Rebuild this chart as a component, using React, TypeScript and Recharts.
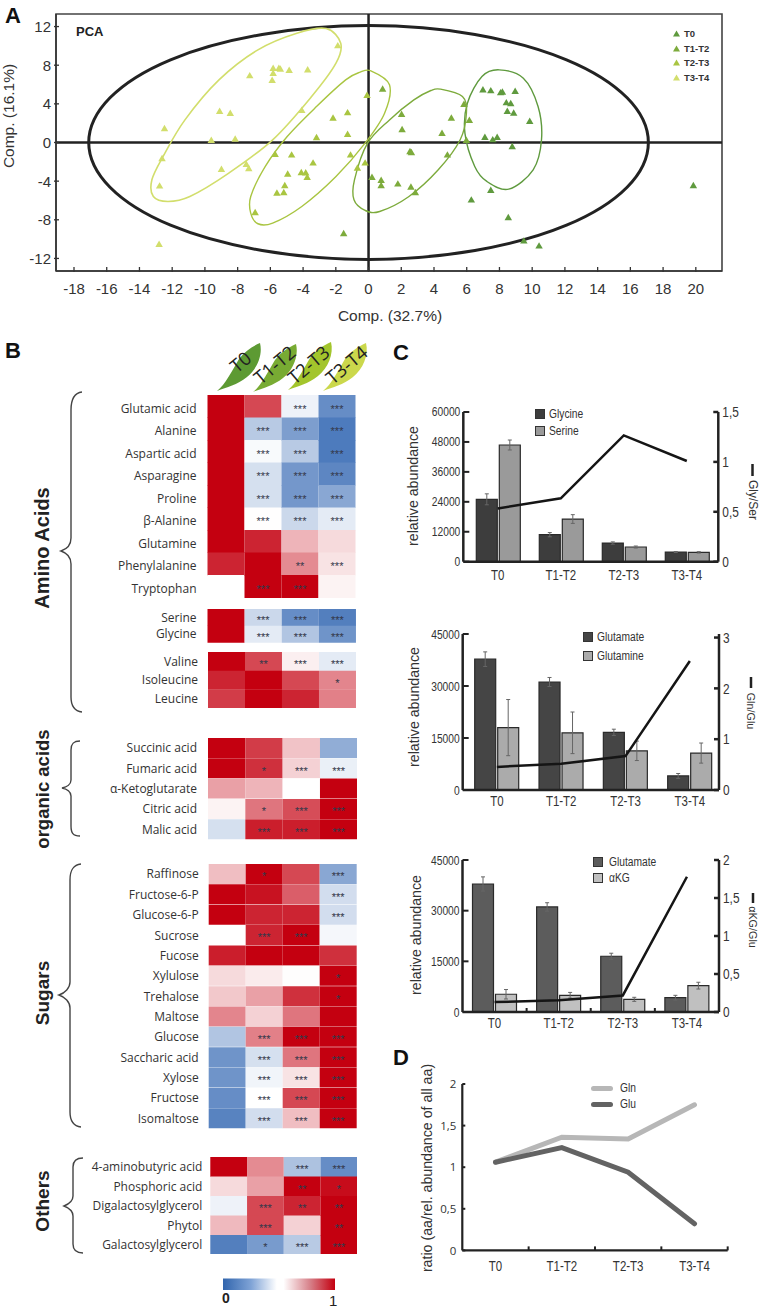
import React from "react"
import {
  Bar, Cell, ComposedChart, BarChart, ErrorBar, LabelList, Legend, Line, ReferenceArea, ReferenceLine,
  Scatter, ScatterChart, Symbols, XAxis, YAxis,
} from "recharts"

const ARIAL = '"Liberation Sans", Arial, sans-serif'
const HUMAN = '"Open Sans", sans-serif'
const SQUEEZE = 0.82 // the figure's Arial is set condensed

// ---- panel A: PCA scores
const t0Points = [
  { x: 6.99, y: 5.41 }, { x: 7.47, y: 5.31 }, { x: 8.07, y: 5.1 }, { x: 8.18, y: 5.17 }, { x: 8.96, y: 5.24 },
  { x: 8.42, y: 4.07 }, { x: 8.69, y: 3.97 }, { x: 8.48, y: 3.17 }, { x: 8.87, y: 3 }, { x: 9.85, y: 2.14 },
  { x: 7.11, y: 0.48 }, { x: 7.59, y: 0.24 }, { x: 7.86, y: 0.48 }, { x: 8.78, y: -0.48 }, { x: 7.47, y: -5 },
  { x: 6.28, y: -6 }, { x: 8.54, y: -7.83 }, { x: 9.49, y: -10.24 }, { x: 10.42, y: -10.76 }, { x: 19.85, y: -4.52 },
]
const t1t2Points = [
  { x: 0.86, y: 5.48 }, { x: 2.02, y: 2.86 }, { x: 2.05, y: 1.28 }, { x: 2.53, y: -1 }, { x: 2.62, y: -1.1 },
  { x: 4.82, y: -1.34 }, { x: 4.49, y: 0.9 }, { x: 5.06, y: 2.48 }, { x: 5.83, y: 3.9 }, { x: 5.98, y: 0.17 },
  { x: 6.16, y: 2.24 }, { x: 0.21, y: -3.66 }, { x: 0.77, y: -3.97 }, { x: 0.77, y: -4.52 }, { x: 1.79, y: -4.34 },
  { x: 2.59, y: -4.66 }, { x: 2.86, y: -5.24 }, { x: -1.52, y: -9.48 },
]
const t2t3Points = [
  { x: -0.09, y: 4.83 }, { x: -2.17, y: 2.48 }, { x: -1.28, y: 3.03 }, { x: -1.28, y: 0.79 }, { x: -3.18, y: 0.45 },
  { x: -1.1, y: -1.34 }, { x: -5.71, y: -1.28 }, { x: -4.7, y: -1.34 }, { x: -3.39, y: -2.17 }, { x: -4.11, y: -3.17 },
  { x: -3.84, y: -3.2 }, { x: -3.75, y: -3.66 }, { x: -4.94, y: -3.31 }, { x: -5.12, y: -4.52 }, { x: -5.18, y: -5.24 },
  { x: -5.6, y: -5.28 }, { x: -6.93, y: -7.31 }, { x: -0.21, y: -2.17 }, { x: -0.68, y: -2.69 },
]
const t3t4Points = [
  { x: -12.47, y: 1.38 }, { x: -12.62, y: -1.72 }, { x: -12.77, y: -4.55 }, { x: -12.8, y: -10.59 }, { x: -9.61, y: 0.17 },
  { x: -9.1, y: 3.17 }, { x: -8.45, y: 2.97 }, { x: -8.15, y: 0.31 }, { x: -8.99, y: -2.83 }, { x: -7.47, y: -2.31 },
  { x: -7.32, y: -2.76 }, { x: -7.26, y: 6.86 }, { x: -5.89, y: 6.38 }, { x: -5.83, y: 7.1 }, { x: -5.83, y: 7.62 },
  { x: -5.48, y: 7.62 }, { x: -5.39, y: 7.55 }, { x: -4.85, y: 7.41 }, { x: -3.72, y: 7.48 }, { x: -1.88, y: 9.97 },
  { x: -4.08, y: 3.28 },
]

// confidence ellipses, outlines
const outerOutline = [
  { x: 17.1, y: 0 }, { x: 15.8, y: 4.63 }, { x: 12.1, y: 8.56 }, { x: 6.5, y: 11.18 }, { x: 0, y: 12.1 },
  { x: -6.5, y: 11.18 }, { x: -12.1, y: 8.56 }, { x: -15.8, y: 4.63 }, { x: -17.1, y: 0 }, { x: -15.8, y: -4.63 },
  { x: -12.1, y: -8.56 }, { x: -6.5, y: -11.18 }, { x: 0, y: -12.1 }, { x: 6.5, y: -11.18 }, { x: 12.1, y: -8.56 },
  { x: 15.8, y: -4.63 },
]
const t0Outline = [
  { x: 7.98, y: 7.52 }, { x: 9.46, y: 6.66 }, { x: 10.36, y: 3.72 }, { x: 10.57, y: 0.28 }, { x: 10.06, y: -2.83 },
  { x: 8.57, y: -4.83 }, { x: 7.23, y: -4.03 }, { x: 6.49, y: -2.48 }, { x: 5.89, y: 0.97 }, { x: 6.04, y: 4.07 },
  { x: 6.93, y: 6.83 },
]
const t1t2Outline = [
  { x: 4.4, y: 5.52 }, { x: 5.74, y: 4.76 }, { x: 5.98, y: 3.03 }, { x: 5.6, y: 0.28 }, { x: 4.26, y: -2.83 },
  { x: 2.47, y: -5.59 }, { x: 0.68, y: -7.14 }, { x: -0.21, y: -7.03 }, { x: -0.89, y: -5.93 }, { x: -0.86, y: -3.86 },
  { x: -0.06, y: -0.07 }, { x: 1.28, y: 2.34 }, { x: 2.77, y: 4.41 }, { x: 3.81, y: 5.38 },
]
const t2t3Outline = [
  { x: 0.15, y: 7.41 }, { x: 1.28, y: 5.97 }, { x: 0.98, y: 3.03 }, { x: -0.21, y: -0.07 }, { x: -1.99, y: -3.52 },
  { x: -4.08, y: -6.62 }, { x: -5.86, y: -8.34 }, { x: -6.76, y: -8.41 }, { x: -7.2, y: -7.31 }, { x: -7.2, y: -5.59 },
  { x: -6.31, y: -2.48 }, { x: -4.97, y: 0.62 }, { x: -3.18, y: 3.72 }, { x: -1.4, y: 6.48 }, { x: -0.51, y: 7.28 },
]
const t3t4Outline = [
  { x: -2.59, y: 11.79 }, { x: -1.7, y: 10.28 }, { x: -1.99, y: 8.21 }, { x: -3.48, y: 4.76 }, { x: -5.86, y: 0.28 },
  { x: -8.54, y: -3.17 }, { x: -10.92, y: -5.59 }, { x: -12.26, y: -6.1 }, { x: -13.15, y: -5.59 }, { x: -13.24, y: -3.86 },
  { x: -12.56, y: -1.45 }, { x: -11.22, y: 2.34 }, { x: -9.14, y: 6.48 }, { x: -6.76, y: 9.59 }, { x: -4.38, y: 11.31 },
]
const pcaXTicks = [-18, -16, -14, -12, -10, -8, -6, -4, -2, 0, 2, 4, 6, 8, 10, 12, 14, 16, 18, 20]
const pcaYTicks = [-12, -8, -4, 0, 4, 8, 12]

const GREEN0 = "#5f9a3e"
const GREEN1 = "#7dab3c"
const GREEN2 = "#a9c541"
const GREEN3 = "#d2de6c"

// ---- panel B: heat map, 0 = blue, 0.5 = white, 1 = red; stars = count of asterisks
const aminoNames = ["Glutamic acid", "Alanine", "Aspartic acid", "Asparagine", "Proline", "β-Alanine", "Glutamine", "Phenylalanine", "Tryptophan"]
const aminoHeat = [
  [1, 0.88, 0.45, 0.1], [1, 0.3, 0.15, 0.05], [1, 0.48, 0.3, 0.05], [1, 0.38, 0.13, 0.08], [1, 0.38, 0.13, 0.18],
  [1, 0.505, 0.35, 0.42], [1, 0.94, 0.68, 0.6], [0.94, 1, 0.76, 0.58], [0.5, 1, 1, 0.54],
]
const aminoStars = [[0, 0, 3, 3], [0, 3, 3, 3], [0, 3, 3, 3], [0, 3, 3, 3], [0, 3, 3, 3], [0, 3, 3, 3], [0, 0, 0, 0], [0, 0, 2, 3], [0, 3, 3, 0]]
const serGlyNames = ["Serine", "Glycine"]
const serGlyHeat = [[1, 0.35, 0.1, 0.06], [1, 0.42, 0.28, 0.12]]
const serGlyStars = [[0, 3, 3, 3], [0, 3, 3, 3]]
const branchedNames = ["Valine", "Isoleucine", "Leucine"]
const branchedHeat = [[1, 0.88, 0.55, 0.42], [0.94, 1, 0.88, 0.77], [0.9, 1, 0.94, 0.78]]
const branchedStars = [[0, 2, 3, 3], [0, 0, 0, 1], [0, 0, 0, 0]]
const organicNames = ["Succinic acid", "Fumaric acid", "α-Ketoglutarate", "Citric acid", "Malic acid"]
const organicHeat = [[1, 0.9, 0.65, 0.2], [1, 0.92, 0.62, 0.44], [0.72, 0.68, 0.5, 1], [0.54, 0.8, 0.87, 1], [0.38, 0.95, 0.95, 1]]
const organicStars = [[0, 0, 0, 0], [0, 1, 3, 3], [0, 0, 0, 0], [0, 1, 3, 3], [0, 3, 3, 3]]
const sugarNames = ["Raffinose", "Fructose-6-P", "Glucose-6-P", "Sucrose", "Fucose", "Xylulose", "Trehalose", "Maltose", "Glucose", "Saccharic acid", "Xylose", "Fructose", "Isomaltose"]
const sugarHeat = [
  [0.66, 1, 0.88, 0.18], [1, 0.97, 0.84, 0.37], [1, 0.94, 0.94, 0.37], [0.5, 0.94, 1, 0.47], [0.95, 1, 1, 0.92],
  [0.6, 0.56, 0.51, 1], [0.64, 0.72, 0.92, 1], [0.77, 0.62, 0.8, 1], [0.28, 0.78, 1, 1], [0.12, 0.38, 0.8, 1],
  [0.12, 0.46, 0.58, 1], [0.1, 0.5, 0.88, 1], [0.07, 0.37, 0.66, 1],
]
const sugarStars = [[0, 1, 0, 3], [0, 0, 0, 3], [0, 0, 0, 3], [0, 3, 3, 0], [0, 0, 0, 0], [0, 0, 0, 1], [0, 0, 0, 1], [0, 0, 0, 0], [0, 3, 3, 3], [0, 3, 3, 3], [0, 3, 3, 3], [0, 3, 3, 3], [0, 3, 3, 3]]
const otherNames = ["4-aminobutyric acid", "Phosphoric acid", "Digalactosylglycerol", "Phytol", "Galactosylglycerol"]
const otherHeat = [[1, 0.76, 0.27, 0.1], [0.6, 0.72, 1, 0.98], [0.45, 0.88, 0.94, 1], [0.67, 0.88, 0.62, 1], [0.06, 0.14, 0.3, 1]]
const otherStars = [[0, 0, 3, 3], [0, 0, 2, 1], [0, 3, 2, 2], [0, 3, 0, 2], [0, 1, 3, 3]]

// ---- panels C and D
const stages = ["T0", "T1-T2", "T2-T3", "T3-T4"]
const glycine = [25000, 10820, 7480, 3880]
const glycineErr = [2200, 850, 450, 200]
const serine = [46770, 17100, 5880, 3740]
const serineErr = [2000, 1750, 400, 280]
const glyPerSer = [0.534, 0.635, 1.266, 1.009]
const glutamate = [37740, 31160, 16640, 4060]
const glutamateErr = [2100, 1300, 900, 700]
const glutamine = [18000, 16500, 11300, 10650]
const glutamineErr = [8100, 6000, 2800, 2900]
const glnPerGlu = [0.455, 0.515, 0.667, 2.54]
const akg = [5250, 4950, 3750, 7800]
const akgErr = [1400, 850, 600, 1000]
const glutamate3 = [37900, 31100, 16500, 4240]
const glutamate3Err = [2100, 1250, 900, 700]
const akgPerGlu = [0.13, 0.155, 0.218, 1.78]
const glnRatio = [1.06, 1.36, 1.34, 1.75]
const gluRatio = [1.06, 1.235, 0.94, 0.32]

const glySerTable = stages.map((stage, i) => ({ stage, glycine: glycine[i], glycineErr: glycineErr[i], serine: serine[i], serineErr: serineErr[i], ratio: glyPerSer[i] }))
const glnGluTable = stages.map((stage, i) => ({ stage, glutamate: glutamate[i], glutamateErr: glutamateErr[i], glutamine: glutamine[i], glutamineErr: glutamineErr[i], ratio: glnPerGlu[i] }))
const akgGluTable = stages.map((stage, i) => ({ stage, glutamate: glutamate3[i], glutamateErr: glutamate3Err[i], akg: akg[i], akgErr: akgErr[i], ratio: akgPerGlu[i] }))
const aaRatioTable = stages.map((stage, i) => ({ stage, gln: glnRatio[i], glu: gluRatio[i] }))

const comma = (v: number) => String(v).replace(".", ",")

// closed Catmull-Rom curve so the traced outlines come out round
function closedSpline(ctx: any) {
  let pts: number[][] = []
  return {
    areaStart() {},
    areaEnd() {},
    lineStart() { pts = [] },
    point(x: number, y: number) { pts.push([x, y]) },
    lineEnd() {
      const n = pts.length
      if (!n) return
      ctx.moveTo(pts[0][0], pts[0][1])
      for (let i = 0; i < n; i++) {
        const p0 = pts[(i + n - 1) % n], p1 = pts[i], p2 = pts[(i + 1) % n], p3 = pts[(i + 2) % n]
        ctx.bezierCurveTo(
          p1[0] + (p2[0] - p0[0]) / 6, p1[1] + (p2[1] - p0[1]) / 6,
          p2[0] - (p3[0] - p1[0]) / 6, p2[1] - (p3[1] - p1[1]) / 6,
          p2[0], p2[1],
        )
      }
      ctx.closePath()
    },
  }
}

function Squeezed({ x, y, anchor, size, font = ARIAL, sx = SQUEEZE, children }: any) {
  return <text transform={`translate(${x} ${y}) scale(${sx} 1)`} textAnchor={anchor} fontFamily={font} fontSize={size} fill="#333">{children}</text>
}

// axis ticks: the mark sits on the inner side of the axis, tickSize/tickMargin are 0 so x,y is the axis point
const leftTick = (size: number, gap: number, mark: number, font = ARIAL, sx = SQUEEZE) => (p: any) => (
  <g>
    <line x1={p.x} x2={p.x + mark} y1={p.y} y2={p.y} stroke="#222" strokeWidth={2} />
    <Squeezed x={p.x - gap} y={p.y + size * 0.36} anchor="end" size={size} font={font} sx={sx}>{comma(p.payload.value)}</Squeezed>
  </g>
)
const rightTick = (size: number, gap: number, mark: number) => (p: any) => (
  <g>
    <line x1={p.x - mark} x2={p.x} y1={p.y} y2={p.y} stroke="#222" strokeWidth={2.5} />
    <Squeezed x={p.x + gap} y={p.y + size * 0.36} anchor="start" size={size}>{comma(p.payload.value)}</Squeezed>
  </g>
)
const bottomTick = (size: number, below: number, band = 0) => (p: any) => (
  <g>
    {band > 0 && <line x1={p.x + band / 2} x2={p.x + band / 2} y1={p.y} y2={p.y - 4} stroke="#222" strokeWidth={2} />}
    <Squeezed x={p.x} y={p.y + below} anchor="middle" size={size}>{p.payload.value}</Squeezed>
  </g>
)
const pcaXTick = (p: any) => (
  <g>
    <line x1={p.x} x2={p.x} y1={p.y + 1} y2={p.y - 4} stroke="#333" strokeWidth={1.3} />
    <text x={p.x} y={p.y + 23} textAnchor="middle" fontFamily={ARIAL} fontSize={15} fill="#333">{p.payload.value}</text>
  </g>
)
const pcaYTick = (p: any) => (
  <g>
    <line x1={p.x - 2} x2={p.x + 3} y1={p.y} y2={p.y} stroke="#333" strokeWidth={1.3} />
    <text x={p.x - 5} y={p.y + 5.5} textAnchor="end" fontFamily={ARIAL} fontSize={15} fill="#333">{p.payload.value}</text>
  </g>
)
const triangle = (p: any) => <Symbols type="triangle" cx={p.cx} cy={p.cy} size={24} fill={p.fill} />

// legend drawn from the series payload, placed by wrapperStyle
const boxLegend = (spacing: number, textGap: number, kind: "box" | "tri" | "stroke", size = 12.5, sx = SQUEEZE, weight = 400) => ({ payload }: any) => (
  <div style={{ fontFamily: ARIAL, fontSize: size, fontWeight: weight, color: "#333" }}>
    {(payload || []).filter((e: any) => e.type !== "none").map((e: any) => (
      <div key={e.value} style={{ display: "flex", alignItems: "center", height: spacing }}>
        {kind === "box" && <span style={{ width: 8, height: 8, background: e.color, border: "1.2px solid #333", marginRight: textGap }} />}
        {kind === "tri" && <svg width={7} height={7} style={{ marginRight: textGap }}><polygon points="3.5,0.5 7,6.5 0,6.5" fill={e.color} /></svg>}
        {kind === "stroke" && <span style={{ width: 22, height: 5, borderRadius: 3, background: e.color, marginRight: textGap }} />}
        <span style={{ display: "inline-block", transform: `scaleX(${sx})`, transformOrigin: "left" }}>{e.value}</span>
      </div>
    ))}
  </div>
)

function heatColor(v: number) {
  const blue = [44, 98, 176], white = [255, 255, 255], red = [196, 0, 16]
  const from = v < 0.5 ? blue : white
  const to = v < 0.5 ? white : red
  // the published scale stays pale longer on both sides of white
  const t = v < 0.5 ? Math.pow(v * 2, 0.8) : Math.pow((v - 0.5) * 2, 1.2)
  return `rgb(${from.map((c, i) => Math.round(c + (to[i] - c) * t)).join(",")})`
}

const HEAT_LEFT = 60
const COLUMNS = ["a", "b", "c", "d"]

function HeatBlock({ cellLeft, cellWidth, top, rowH, gap, names, heat, stars, labelDy = 0 }: any) {
  const rows = names.map((name: string, i: number) => ({
    name, a: 1, b: 1, c: 1, d: 1,
    sa: "*".repeat(stars[i][0]), sb: "*".repeat(stars[i][1]), sc: "*".repeat(stars[i][2]), sd: "*".repeat(stars[i][3]),
  }))
  const axisW = cellLeft - HEAT_LEFT
  return (
    <div style={{ position: "absolute", left: HEAT_LEFT, top }}>
      <BarChart width={axisW + cellWidth} height={rowH * names.length} data={rows} layout="vertical" barCategoryGap={0} margin={{ top: 0, right: 0, bottom: 0, left: 0 }}>
        <XAxis type="number" hide domain={[0, 4]} />
        <YAxis type="category" dataKey="name" width={axisW} interval={0} axisLine={false} tickLine={false} tickSize={0} tickMargin={gap}
          tick={{ fontFamily: HUMAN, fontSize: 12, fill: "#333", dy: labelDy }} />
        {COLUMNS.map((col, c) => (
          <Bar key={col} dataKey={col} stackId="heat" isAnimationActive={false}>
            {rows.map((_: any, i: number) => <Cell key={i} fill={heatColor(heat[i][c])} />)}
            <LabelList dataKey={"s" + col} position="center" fill="#34384a" fontFamily={ARIAL} fontSize={11} dy={2.5} />
          </Bar>
        ))}
      </BarChart>
    </div>
  )
}

function PcaChart() {
  const ellipse = (key: string, data: any[], stroke: string, width: number) => (
    <Scatter key={key} data={data} legendType="none" isAnimationActive={false} shape={() => <g />}
      line={{ stroke, strokeWidth: width }} lineType="joint" lineJointType={closedSpline as any} />
  )
  return (
    <div style={{ position: "absolute", left: 0, top: 4 }}>
      <ScatterChart width={740} height={310} margin={{ top: 10, right: 18, bottom: 0, left: 0 }}>
        <XAxis type="number" dataKey="x" domain={[-19.1, 21.6]} ticks={pcaXTicks} interval={0} allowDataOverflow height={43}
          axisLine={{ stroke: "#333", strokeWidth: 1.5 }} tickLine={false} tickSize={0} tickMargin={0} tick={pcaXTick} />
        <YAxis type="number" dataKey="y" domain={[-13.3, 13.3]} ticks={pcaYTicks} interval={0} allowDataOverflow width={56}
          axisLine={{ stroke: "#333", strokeWidth: 1.5 }} tickLine={false} tickSize={0} tickMargin={0} tick={pcaYTick} />
        <ReferenceArea x1={-19.1} x2={21.6} y1={-13.3} y2={13.3} fill="none" stroke="#444" strokeWidth={1.6} ifOverflow="visible" />
        <ReferenceLine x={0} stroke="#222" strokeWidth={2.5} />
        <ReferenceLine y={0} stroke="#222" strokeWidth={2.5} />
        {ellipse("outer", outerOutline, "#222", 3)}
        {ellipse("e0", t0Outline, GREEN0, 1.4)}
        {ellipse("e1", t1t2Outline, GREEN1, 1.4)}
        {ellipse("e2", t2t3Outline, GREEN2, 1.4)}
        {ellipse("e3", t3t4Outline, GREEN3, 1.6)}
        <Scatter name="T0" data={t0Points} fill={GREEN0} shape={triangle} isAnimationActive={false} />
        <Scatter name="T1-T2" data={t1t2Points} fill={GREEN1} shape={triangle} isAnimationActive={false} />
        <Scatter name="T2-T3" data={t2t3Points} fill={GREEN2} shape={triangle} isAnimationActive={false} />
        <Scatter name="T3-T4" data={t3t4Points} fill={GREEN3} shape={triangle} isAnimationActive={false} />
        <Legend layout="vertical" align="center" verticalAlign="middle" wrapperStyle={{ left: 673, top: 22, width: 50 }}
          content={boxLegend(14.7, 4, "tri", 9.5, 1, 700)} />
      </ScatterChart>
    </div>
  )
}

function RatioBars({ top, plotH, axisW, plotW, data, first, firstErr, firstName, firstFill, second, secondErr, secondName, secondFill,
  leftMax, leftTicks, rightMax, rightTicks, below, padLeft, padRight, boundary, legendStyle, legendSpacing, legendGap }: any) {
  return (
    <div style={{ position: "absolute", left: 403, top }}>
      <ComposedChart width={axisW + plotW + 35} height={12 + plotH + 30} data={data} margin={{ top: 12, right: 0, bottom: 0, left: 0 }} barSize={21} barGap={2}>
        <XAxis dataKey="stage" height={30} interval={0} padding={{ left: padLeft, right: padRight }} axisLine={{ stroke: "#222", strokeWidth: 2.5 }}
          tickLine={false} tickSize={0} tickMargin={0} tick={bottomTick(14, below, boundary)} />
        <YAxis yAxisId="left" domain={[0, leftMax]} ticks={leftTicks} interval={0} width={axisW} axisLine={{ stroke: "#222", strokeWidth: 2.5 }}
          tickLine={false} tickSize={0} tickMargin={0} tick={leftTick(12.5, 3, 6)} />
        <YAxis yAxisId="right" orientation="right" domain={[0, rightMax]} ticks={rightTicks} interval={0} width={35} axisLine={{ stroke: "#222", strokeWidth: 2.5 }}
          tickLine={false} tickSize={0} tickMargin={0} tick={rightTick(14.5, 4, 5)} />
        <Bar yAxisId="left" dataKey={first} name={firstName} fill={firstFill} stroke="#2a2a2a" strokeWidth={1.2} isAnimationActive={false}>
          <ErrorBar dataKey={firstErr} width={2} stroke="#666" strokeWidth={1} direction="y" isAnimationActive={false} />
        </Bar>
        <Bar yAxisId="left" dataKey={second} name={secondName} fill={secondFill} stroke="#2a2a2a" strokeWidth={1.2} isAnimationActive={false}>
          <ErrorBar dataKey={secondErr} width={2} stroke="#666" strokeWidth={1} direction="y" isAnimationActive={false} />
        </Bar>
        <Line yAxisId="right" dataKey="ratio" type="linear" stroke="#151515" strokeWidth={2.5} dot={false} activeDot={false} legendType="none" isAnimationActive={false} />
        <Legend layout="vertical" align="center" verticalAlign="middle" wrapperStyle={legendStyle} content={boxLegend(legendSpacing, legendGap, "box")} />
      </ComposedChart>
    </div>
  )
}

function AaRatioChart() {
  return (
    <div style={{ position: "absolute", left: 403, top: 1072.3 }}>
      <ComposedChart width={59.3 + 265.4 + 5} height={12 + 166.4 + 30} data={aaRatioTable} margin={{ top: 12, right: 5, bottom: 0, left: 0 }}>
        <XAxis dataKey="stage" scale="band" height={30} interval={0} axisLine={{ stroke: "#222", strokeWidth: 2.2 }}
          tickLine={false} tickSize={0} tickMargin={0} tick={bottomTick(14, 21, 66.35)} />
        <YAxis domain={[0, 2]} ticks={[0, 0.5, 1, 1.5, 2]} interval={0} width={59.3} axisLine={{ stroke: "#222", strokeWidth: 2.2 }}
          tickLine={false} tickSize={0} tickMargin={0} tick={leftTick(11.5, 6, 3, HUMAN, 1)} />
        <Line dataKey="gln" name="Gln" type="linear" stroke="#b7b7b7" strokeWidth={5} dot={false} activeDot={false} strokeLinecap="round" isAnimationActive={false} />
        <Line dataKey="glu" name="Glu" type="linear" stroke="#636363" strokeWidth={5} dot={false} activeDot={false} strokeLinecap="round" isAnimationActive={false} />
        <Legend layout="vertical" align="center" verticalAlign="middle" wrapperStyle={{ left: 188, top: 8, width: 70 }} content={boxLegend(16, 7, "stroke", 12.5)} />
      </ComposedChart>
    </div>
  )
}

const LEAF = "M0 48 C8 42 16 26 22 16 C28 8 36 3 43 0 C46 12 40 26 30 34 C20 42 10 44 0 48 Z"
const leaves = [
  { x: 217, y: 343, fill: "#5d9a33", label: "T0", tx: 241, ty: 362 },
  { x: 253, y: 344, fill: "#78ab33", label: "T1-T2", tx: 275, ty: 365 },
  { x: 288, y: 342, fill: "#a3c52c", label: "T2-T3", tx: 309, ty: 365 },
  { x: 323, y: 343, fill: "#cbd84c", label: "T3-T4", tx: 347, ty: 365 },
]
const BRACES = [
  "M82 392 C74 393 71 399 71 410 L71 538 C71 545 67 549 61 551 C67 553 71 557 71 564 L71 697 C71 706 74 711 82 712",
  "M80 741 C73 741 71 744 71 750 L71 780 C71 784 67 787 62 788 C67 789 71 792 71 796 L71 826 C71 833 73 836 80 836",
  "M81 864 C73 865 70 870 70 880 L70 982 C70 988 65 993 59 995 C65 997 70 1002 70 1008 L70 1112 C70 1121 73 1126 81 1127",
  "M83 1158 C76 1158 73 1161 73 1167 L73 1196 C73 1201 69 1204 64 1206 C69 1208 73 1211 73 1216 L73 1244 C73 1250 76 1253 83 1253",
]

function vertical(label: string, x: number, y: number, size: number, opts: any = {}) {
  return (
    <text transform={`translate(${x} ${y}) rotate(${opts.angle ?? -90})`} textAnchor="middle" fontFamily={opts.font ?? ARIAL} fontSize={size}
      fontWeight={opts.weight ?? 400} fill={opts.fill ?? "#333"}>{label}</text>
  )
}

function Annotations() {
  return (
    <svg width={762} height={1308} style={{ position: "absolute", left: 0, top: 0, pointerEvents: "none" }}>
      <defs>
        <linearGradient id="heatScale">
          <stop offset="0" stopColor="#3165ad" />
          <stop offset="0.25" stopColor="#7fa3d6" />
          <stop offset="0.48" stopColor="#ffffff" />
          <stop offset="0.54" stopColor="#ffffff" />
          <stop offset="0.78" stopColor="#d67f88" />
          <stop offset="1" stopColor="#c40010" />
        </linearGradient>
      </defs>
      <g fontFamily={ARIAL} fontWeight={700} fontSize={22} fill="#111">
        <text x={5} y={23}>A</text>
        <text x={5} y={358}>B</text>
        <text x={393} y={360}>C</text>
        <text x={393} y={1065}>D</text>
      </g>
      <text x={76} y={36} fontFamily={ARIAL} fontWeight={700} fontSize={13} fill="#222">PCA</text>
      <text x={390} y={321} textAnchor="middle" fontFamily={ARIAL} fontSize={15.5} fill="#333">Comp. (32.7%)</text>
      {vertical("Comp. (16.1%)", 14, 116, 15.5)}

      {leaves.map((l) => (
        <g key={l.label}>
          <path d={LEAF} transform={`translate(${l.x} ${l.y})`} fill={l.fill} />
          <text transform={`translate(${l.tx + 4} ${l.ty + 5}) rotate(-40)`} textAnchor="middle" fontFamily={HUMAN} fontSize={18.5} fill="#222">{l.label}</text>
        </g>
      ))}
      {BRACES.map((d) => <path key={d} d={d} fill="none" stroke="#444" strokeWidth={1.4} />)}
      {vertical("Amino Acids", 49, 548, 20, { weight: 700, fill: "#222" })}
      {vertical("organic acids", 49, 789, 18.5, { weight: 700, fill: "#222" })}
      {vertical("Sugars", 49, 993, 19, { weight: 700, fill: "#222" })}
      {vertical("Others", 49, 1201, 19, { weight: 700, fill: "#222" })}

      <rect x={223} y={1278.5} width={112} height={11.5} fill="url(#heatScale)" />
      <text x={222} y={1303} fontFamily={ARIAL} fontSize={14} fontWeight={700} fill="#222">0</text>
      <text x={329} y={1306} fontFamily={ARIAL} fontSize={15} fill="#222">1</text>

      {vertical("relative abundance", 418, 486, 14.2)}
      {vertical("relative abundance", 419, 707, 14.2)}
      {vertical("relative abundance", 421, 935, 14.2)}
      {vertical("ratio (aa/rel. abundance of all aa)", 432, 1168, 14.2)}

      <line x1={752.5} x2={752.5} y1={464} y2={476} stroke="#222" strokeWidth={2.5} />
      {vertical("Gly/Ser", 749, 500, 12, { angle: 90 })}
      <line x1={751} x2={751} y1={677} y2={688} stroke="#222" strokeWidth={2.5} />
      {vertical("Gln/Glu", 747, 711, 10.8, { angle: 90 })}
      <line x1={753} x2={753} y1={893} y2={903} stroke="#222" strokeWidth={2.5} />
      {vertical("αKG/Glu", 749, 927, 10.8, { angle: 90 })}
    </svg>
  )
}

export default function App() {
  return (
    <div style={{ position: "absolute", left: 0, top: 0, width: 762, height: 1308, background: "#fff", overflow: "hidden" }}>
      <PcaChart />
      <HeatBlock cellLeft={207.5} cellWidth={148} top={395} rowH={22.5} gap={11} labelDy={2} names={aminoNames} heat={aminoHeat} stars={aminoStars} />
      <HeatBlock cellLeft={207.5} cellWidth={148.5} top={609.3} rowH={16.7} gap={11} names={serGlyNames} heat={serGlyHeat} stars={serGlyStars} />
      <HeatBlock cellLeft={208} cellWidth={148} top={652.3} rowH={18.7} gap={10} names={branchedNames} heat={branchedHeat} stars={branchedStars} />
      <HeatBlock cellLeft={208} cellWidth={149.3} top={738} rowH={20.3} gap={11} names={organicNames} heat={organicHeat} stars={organicStars} />
      <HeatBlock cellLeft={208.7} cellWidth={148} top={864.3} rowH={20.36} gap={10} names={sugarNames} heat={sugarHeat} stars={sugarStars} />
      <HeatBlock cellLeft={210.3} cellWidth={147} top={1156.7} rowH={19.5} gap={8} names={otherNames} heat={otherHeat} stars={otherStars} />

      <RatioBars top={400} plotH={149.7} axisW={60.3} plotW={255} data={glySerTable}
        first="glycine" firstErr="glycineErr" firstName="Glycine" firstFill="#3d3d3d"
        second="serine" secondErr="serineErr" secondName="Serine" secondFill="#9a9a9a"
        leftMax={60000} leftTicks={[0, 12000, 24000, 36000, 48000, 60000]} rightMax={1.5} rightTicks={[0, 0.5, 1, 1.5]}
        below={18} padLeft={3} padRight={0} boundary={0}
        legendStyle={{ left: 132, top: 5, width: 90 }} legendSpacing={17} legendGap={4} />
      <RatioBars top={622} plotH={156} axisW={59.7} plotW={256.3} data={glnGluTable}
        first="glutamate" firstErr="glutamateErr" firstName="Glutamate" firstFill="#454545"
        second="glutamine" secondErr="glutamineErr" secondName="Glutamine" secondFill="#ababab"
        leftMax={45000} leftTicks={[0, 15000, 30000, 45000]} rightMax={3.07} rightTicks={[0, 1, 2, 3]}
        below={16} padLeft={2} padRight={-3} boundary={0}
        legendStyle={{ left: 180, top: 5, width: 90 }} legendSpacing={19.5} legendGap={4} />
      <RatioBars top={848} plotH={152} axisW={59.5} plotW={256.5} data={akgGluTable}
        first="glutamate" firstErr="glutamateErr" firstName="Glutamate" firstFill="#5c5c5c"
        second="akg" secondErr="akgErr" secondName="αKG" secondFill="#c0c0c0"
        leftMax={45000} leftTicks={[0, 15000, 30000, 45000]} rightMax={2} rightTicks={[0, 0.5, 1, 1.5, 2]}
        below={16} padLeft={0} padRight={0} boundary={64.1}
        legendStyle={{ left: 190, top: 6, width: 90 }} legendSpacing={16} legendGap={6} />
      <AaRatioChart />
      <Annotations />
    </div>
  )
}
